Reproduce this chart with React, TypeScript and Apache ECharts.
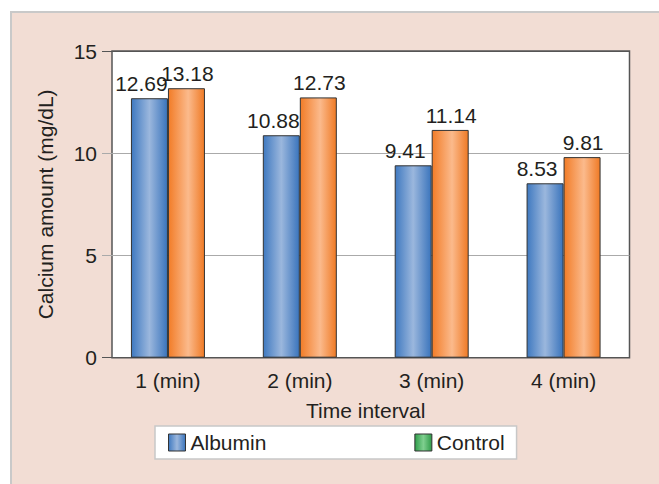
import React, { useEffect, useRef } from "react";
import * as echarts from "echarts";

const categories = ["1 (min)", "2 (min)", "3 (min)", "4 (min)"];
const albumin = [12.69, 10.88, 9.41, 8.53];
const control = [13.18, 12.73, 11.14, 9.81];
const seriesNames = ["Albumin", "Control"];

const FONT = "'Liberation Sans', Arial, sans-serif";
const TEXT = "#231f20";

const blueGrad = new echarts.graphic.LinearGradient(0, 0, 1, 0, [
  { offset: 0, color: "#3f79c0" },
  { offset: 0.5, color: "#9bb7dd" },
  { offset: 1, color: "#3a74bc" },
]);
const orangeGrad = new echarts.graphic.LinearGradient(0, 0, 1, 0, [
  { offset: 0, color: "#f27c27" },
  { offset: 0.55, color: "#fbba8c" },
  { offset: 1, color: "#ef7a25" },
]);
const greenGrad = new echarts.graphic.LinearGradient(0, 0, 1, 0, [
  { offset: 0, color: "#2f9e4a" },
  { offset: 0.5, color: "#7fcf8f" },
  { offset: 1, color: "#2e9a48" },
]);

export default function App() {
  const ref = useRef<HTMLDivElement>(null);
  useEffect(() => {
    if (!ref.current) return;
    const chart = echarts.init(ref.current, null, { renderer: "svg" });
    const gridLeft = 102;
    const gridTop = 51;
    const gridRight = 29.5;
    const gridBottom = 126.3;
    const plotX = 112;
    const plotW = 659 - gridRight - plotX;
    const plotH = 484 - gridTop - gridBottom;
    chart.setOption({
      animation: false,
      backgroundColor: "#ffffff",
      textStyle: { fontFamily: FONT },
      graphic: [
        {
          type: "rect",
          z: -20,
          shape: { x: 11, y: 12, width: 660, height: 480 },
          style: { fill: "#f2ddd4", stroke: "#c9c9c9", lineWidth: 2 },
        },
        {
          type: "rect",
          z: -10,
          shape: { x: plotX, y: gridTop, width: plotW, height: plotH },
          style: { fill: "#ffffff", stroke: "#555555", lineWidth: 1.5 },
        },
      ],
      grid: {
        left: gridLeft,
        right: gridRight,
        top: gridTop,
        bottom: gridBottom,
        containLabel: false,
      },
      legend: {
        left: 155,
        top: 426,
        data: [
          { name: seriesNames[0], itemStyle: { color: blueGrad } },
          { name: seriesNames[1], itemStyle: { color: greenGrad } },
        ],
        icon: "rect",
        itemWidth: 17,
        itemHeight: 17,
        itemGap: 148,
        padding: [6, 12, 6, 13],
        backgroundColor: "#ffffff",
        borderColor: "#c8c8c8",
        borderWidth: 1.5,
        borderRadius: 0,
        itemStyle: { borderColor: "#333333", borderWidth: 1 },
        textStyle: { fontSize: 21, color: TEXT, fontFamily: FONT },
      },
      xAxis: {
        type: "category",
        data: categories,
        axisLine: { show: false },
        axisTick: { show: false },
        axisLabel: {
          fontSize: 21,
          color: TEXT,
          margin: 12,
          fontFamily: FONT,
        },
        name: "Time interval",
        nameLocation: "middle",
        nameGap: 42,
        nameTextStyle: { fontSize: 21, color: TEXT, fontFamily: FONT },
      },
      yAxis: {
        type: "value",
        min: 0,
        max: 15,
        interval: 5,
        axisLine: { show: false },
        axisTick: { show: false },
        axisLabel: {
          fontSize: 21,
          color: TEXT,
          margin: 5,
          fontFamily: FONT,
        },
        splitLine: {
          show: true,
          lineStyle: {
            color: ["#555555", "#aaaaaa", "#aaaaaa", "#555555"],
            width: 1.2,
          },
        },
        name: "Calcium amount (mg/dL)",
        nameLocation: "middle",
        nameGap: 46,
        nameTextStyle: { fontSize: 21, color: TEXT, fontFamily: FONT },
      },
      series: [
        {
          name: seriesNames[0],
          type: "bar",
          data: albumin,
          barWidth: 37,
          barGap: "0%",
          itemStyle: { color: blueGrad, borderColor: "#333333", borderWidth: 1 },
          label: {
            show: true,
            position: "top",
            distance: 4,
            offset: [-8, 0],
            fontSize: 21,
            color: TEXT,
            fontFamily: FONT,
          },
        },
        {
          name: seriesNames[1],
          type: "bar",
          data: control,
          barWidth: 37,
          barGap: "0%",
          itemStyle: { color: orangeGrad, borderColor: "#333333", borderWidth: 1 },
          label: {
            show: true,
            position: "top",
            distance: 4,
            offset: [1, 0],
            fontSize: 21,
            color: TEXT,
            fontFamily: FONT,
          },
        },
      ],
    });
    return () => chart.dispose();
  }, []);
  return (
    <div
      ref={ref}
      style={{ position: "fixed", left: 0, top: 0, width: 659, height: 484 }}
    />
  );
}
